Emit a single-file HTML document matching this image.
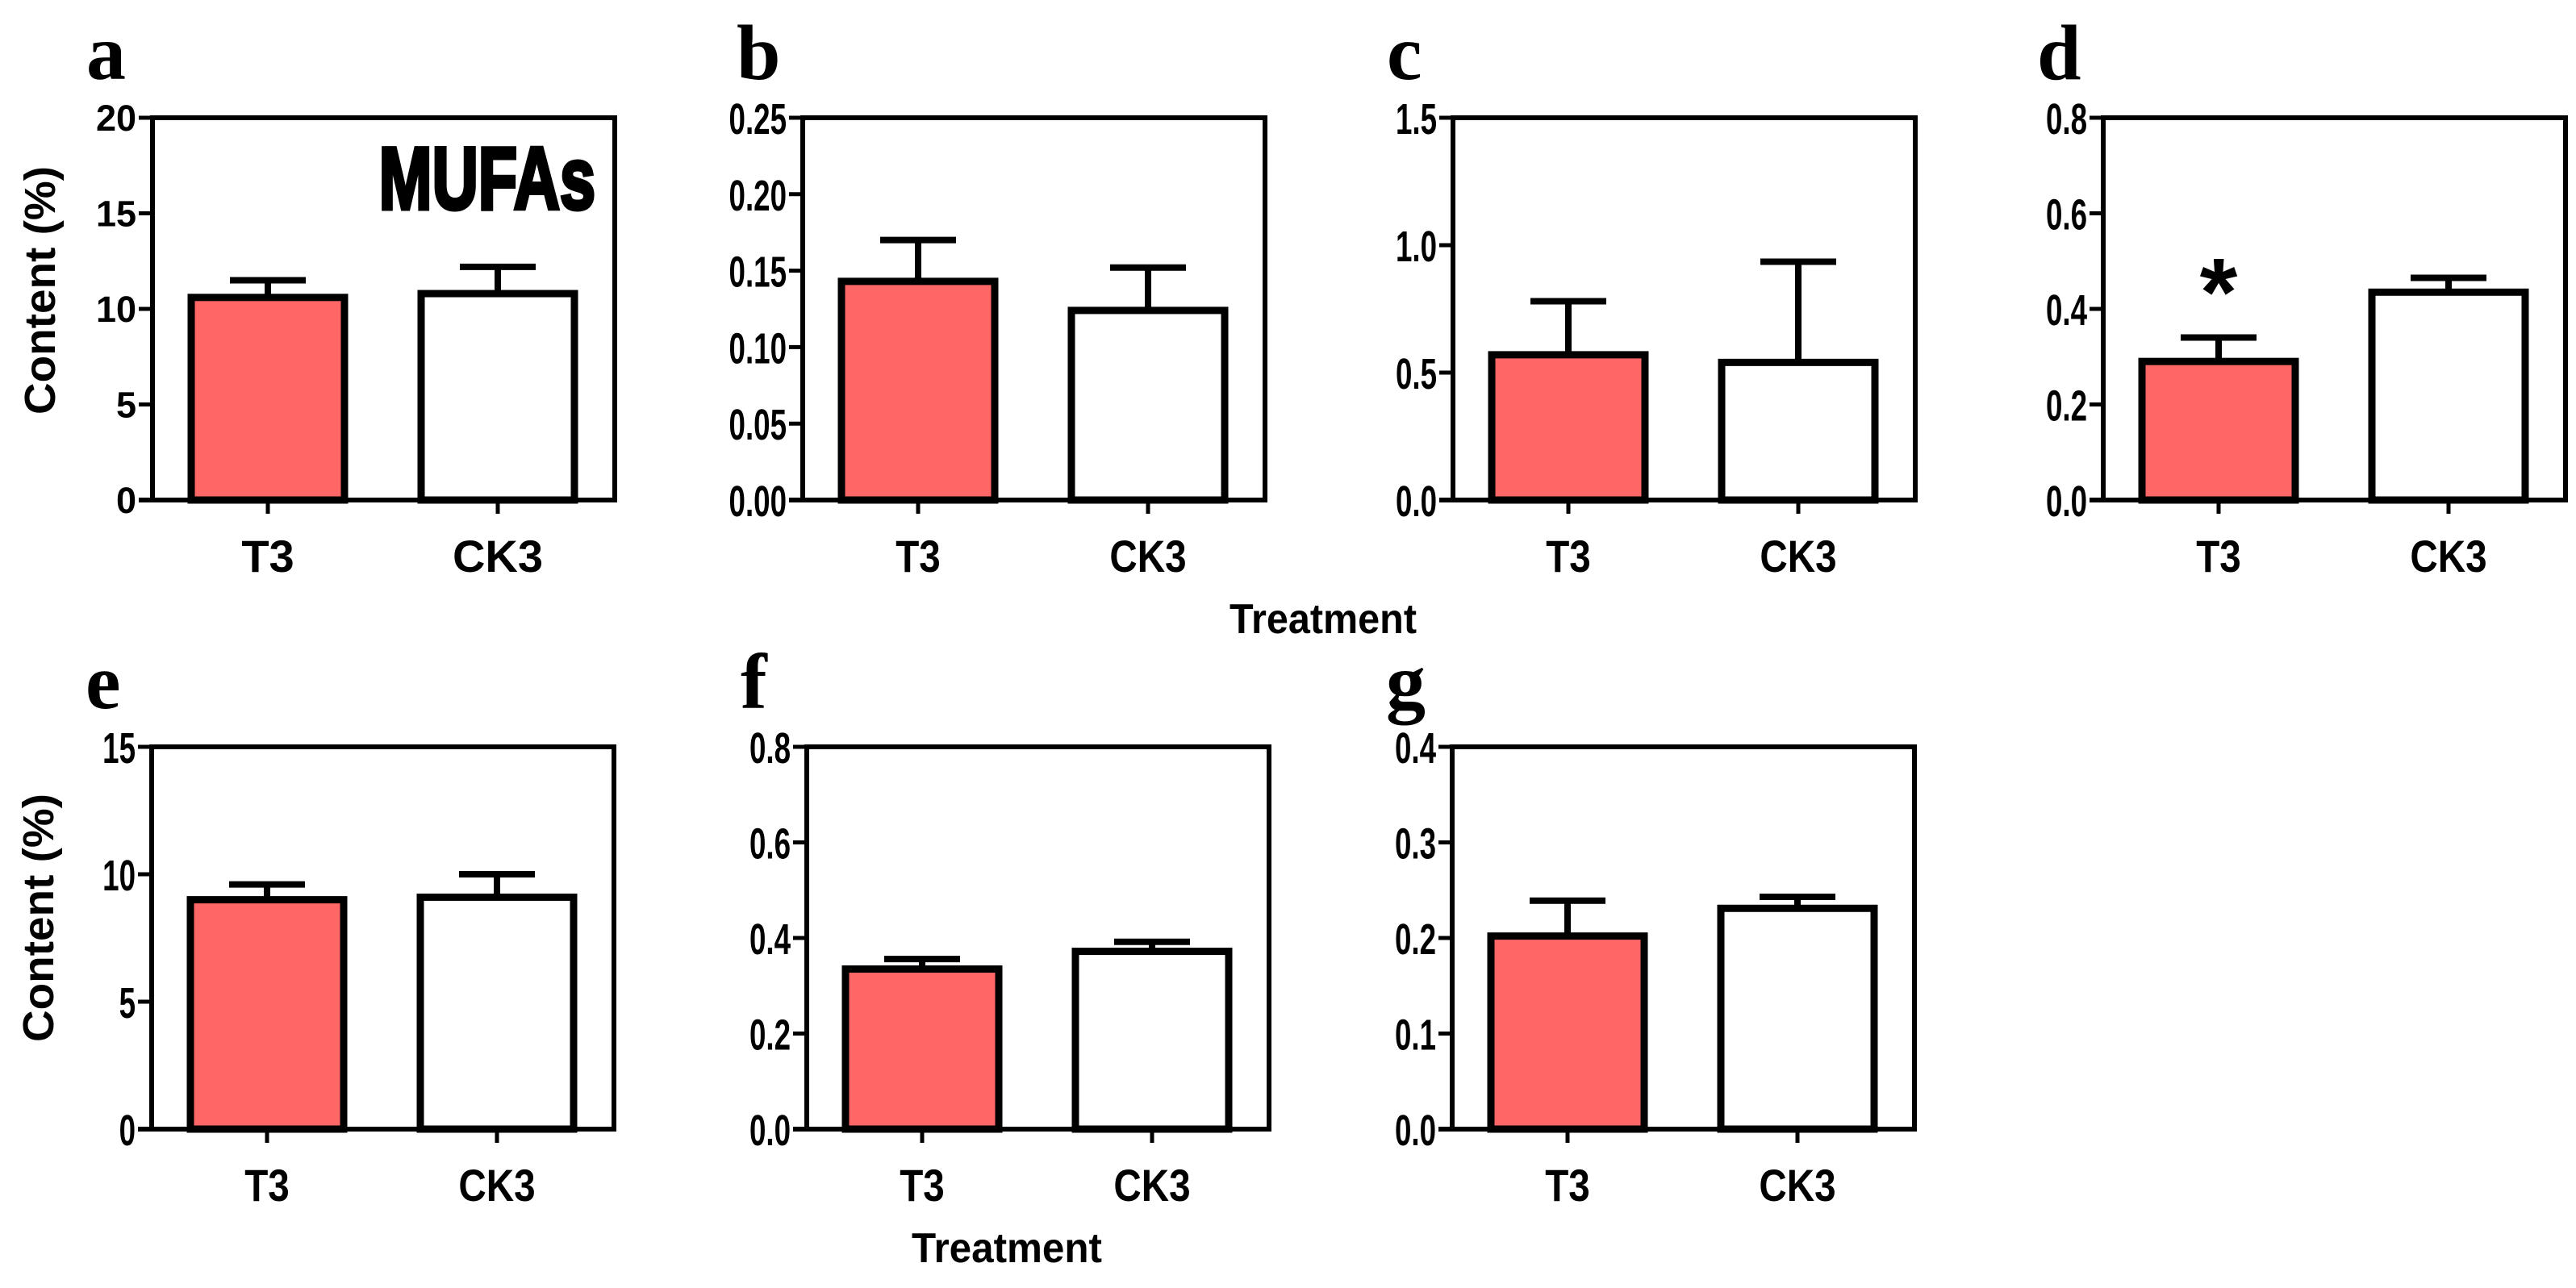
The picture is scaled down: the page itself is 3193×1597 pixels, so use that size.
<!DOCTYPE html>
<html><head><meta charset="utf-8">
<style>
html,body{margin:0;padding:0;background:#fff;}
svg{display:block;}
text{font-family:"Liberation Sans",Arial,sans-serif;font-weight:bold;fill:#000;}
.letter{font-family:"Liberation Serif","Times New Roman",serif;font-weight:bold;}
</style></head>
<body>
<svg id="fig" width="3193" height="1597" viewBox="0 0 3193 1597" xmlns="http://www.w3.org/2000/svg"></svg>
<script>
const categories = ["T3","CK3"];
const panelLetters = ["a","b","c","d","e","f","g"];
const meansA = [10.6, 10.8];   const errA = [11.5, 12.2];   const ticksA = ["0","5","10","15","20"];
const meansB = [0.143, 0.124]; const errB = [0.170, 0.152]; const ticksB = ["0.00","0.05","0.10","0.15","0.20","0.25"];
const meansC = [0.57, 0.54];   const errC = [0.78, 0.935];  const ticksC = ["0.0","0.5","1.0","1.5"];
const meansD = [0.29, 0.435];  const errD = [0.34, 0.465];  const ticksD = ["0.0","0.2","0.4","0.6","0.8"];
const meansE = [9.0, 9.1];     const errE = [9.6, 10.0];    const ticksE = ["0","5","10","15"];
const meansF = [0.335, 0.372]; const errF = [0.356, 0.392]; const ticksF = ["0.0","0.2","0.4","0.6","0.8"];
const meansG = [0.202, 0.231]; const errG = [0.239, 0.243]; const ticksG = ["0.0","0.1","0.2","0.3","0.4"];

const NS = "http://www.w3.org/2000/svg";
const svg = document.getElementById("fig");
function mk(tag, attrs, parent){
  const e = document.createElementNS(NS, tag);
  for (const k in attrs) e.setAttribute(k, attrs[k]);
  (parent||svg).appendChild(e);
  return e;
}
const panels = [
  {L:189, T:146, means:meansA, errs:errA, ticks:ticksA, narrow:false, star:false, mufa:true},
  {L:995, T:146, means:meansB, errs:errB, ticks:ticksB, narrow:true, star:false},
  {L:1801,T:146, means:meansC, errs:errC, ticks:ticksC, narrow:true, star:false},
  {L:2607,T:146, means:meansD, errs:errD, ticks:ticksD, narrow:true, star:true},
  {L:188, T:926, means:meansE, errs:errE, ticks:ticksE, narrow:true, star:false},
  {L:1000,T:926, means:meansF, errs:errF, ticks:ticksF, narrow:true, star:false},
  {L:1800,T:926, means:meansG, errs:errG, ticks:ticksG, narrow:true, star:false}
];
const W = 573, H = 474;
panels.forEach((p, i) => {
  const g = mk("g", {});
  
  
  const B = p.T + H;
  const maxV = parseFloat(p.ticks[p.ticks.length-1]);
  const y = v => B - v / maxV * H;
  const xc = k => p.L + (k === 0 ? 143 : 428);
  const lt = mk("text", {x:p.L-82, y:p.T-48, "font-size":98, class:"letter"}, g);
  lt.textContent = panelLetters[i];
  
  
  p.means.forEach((m, k) => {
    const bw = 190;
    const r = mk("rect", {x:xc(k)-bw/2, y:y(m), width:bw, height:B-y(m), fill:k===0?"#FF6666":"#fff", stroke:"#000", "stroke-width":9}, g);
    
    
    const e = mk("path", {d:`M${xc(k)},${y(m)} V${y(p.errs[k])} M${xc(k)-47},${y(p.errs[k])} H${xc(k)+47}`, stroke:"#000", "stroke-width":8, fill:"none"}, g);
    
    
    const cl = mk("text", {x:xc(k), y:B+89, "font-size":56, "text-anchor":"middle"}, g);
    if (p.narrow) cl.setAttribute("transform", `translate(${xc(k)},0) scale(0.85,1) translate(${-xc(k)},0)`);
    cl.textContent = categories[k];
    
    
    mk("line", {x1:xc(k), y1:B, x2:xc(k), y2:B+17, stroke:"#000", "stroke-width":5}, g);
  });
  const f = mk("rect", {x:p.L, y:p.T, width:W, height:H, fill:"none", stroke:"#000", "stroke-width":6}, g);
  
  
  mk("line", {x1:p.L-17, y1:B, x2:p.L, y2:B, stroke:"#000", "stroke-width":6}, g);
  p.ticks.forEach(t => {
    const v = parseFloat(t);
    mk("line", {x1:p.L-17, y1:y(v), x2:p.L, y2:y(v), stroke:"#000", "stroke-width":5}, g);
    const tx = mk("text", {x:p.L-20, y:y(v)+(p.narrow?20:16), "font-size":p.narrow?54:45, "text-anchor":"end"}, g);
    if (p.narrow) tx.setAttribute("transform", `translate(${p.L-20},0) scale(0.68,1) translate(${-(p.L-20)},0)`);
    tx.textContent = t;
    
    
  });
  if (p.star) {
    const s = mk("text", {x:xc(0), y:y(p.errs[0])-15, "font-size":120, "text-anchor":"middle"}, g);
    s.textContent = "*";
    
    
  }
  if (p.mufa) {
    const m = mk("text", {x:p.L+549, y:p.T+113, "font-size":110, "text-anchor":"end", transform:`translate(${p.L+549},0) scale(0.72,1) translate(${-(p.L+549)},0)`, style:"font-weight:900;stroke:#000;stroke-width:5"}, g);
    m.textContent = "MUFAs";
    
    
  }
});
function addText(txt, x, yy, size, rot, name, len){
  const t = mk("text", {x:x, y:yy, "font-size":size, "text-anchor":"middle", textLength:len, lengthAdjust:"spacingAndGlyphs"});
  if (rot) t.setAttribute("transform", `rotate(-90 ${x} ${yy})`);
  t.textContent = txt;
  
  
}
addText("Content (%)", 68, 360, 54, true, "y-axis-title-top", 308);
addText("Content (%)", 66, 1138, 54, true, "y-axis-title-bottom", 308);
addText("Treatment", 1640, 785, 52, false, "x-axis-title-top", 232);
addText("Treatment", 1248, 1565, 52, false, "x-axis-title-bottom", 236);
</script>
</body></html>
